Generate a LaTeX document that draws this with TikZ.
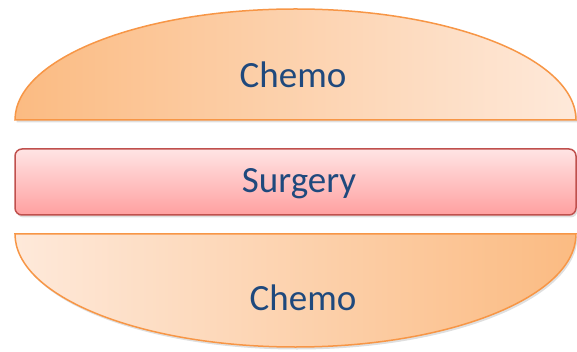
\documentclass[tikz,border=0pt]{standalone}
\usepackage{fontspec}
\setmainfont{Carlito}
\usetikzlibrary{shadows}
\definecolor{chemoLine}{HTML}{F79646}
\definecolor{chemoDark}{HTML}{FBBB82}
\definecolor{chemoLight}{HTML}{FEE9DA}
\definecolor{surgLine}{HTML}{C0504D}
\definecolor{surgTop}{HTML}{FFE4E4}
\definecolor{surgBot}{HTML}{FFA0A0}
\definecolor{labelBlue}{HTML}{1F497D}
\begin{document}
\begin{tikzpicture}[x=1pt,y=-1pt,
  every node/.style={font=\fontsize{37}{44}\selectfont, text=labelBlue},
  softshadow/.style={drop shadow={opacity=0.25,shadow xshift=1.5pt,shadow yshift=-2.5pt}},
  chemo/.style={draw=chemoLine, line width=1.5pt, softshadow}]
\useasboundingbox (0,0) rectangle (577,352);
% upper chemo half
\path[chemo, left color=chemoDark, right color=chemoLight]
  (15,120) arc[start angle=180, end angle=360, x radius=280.5, y radius=111] -- cycle;
\node (chemoTop) at (293,75) {Chemo};
% surgery bar
\path[draw=surgLine, line width=1.5pt, rounded corners=7pt, top color=surgTop, bottom color=surgBot, softshadow]
  (15,149) rectangle (576,215);
\node (surgery) at (299,184) {Surgery};
% lower chemo half
\path[chemo, left color=chemoLight, right color=chemoDark]
  (15,234) arc[start angle=180, end angle=0, x radius=280.5, y radius=113] -- cycle;
\node (chemoBot) at (303,298) {Chemo};
\end{tikzpicture}
\end{document}
